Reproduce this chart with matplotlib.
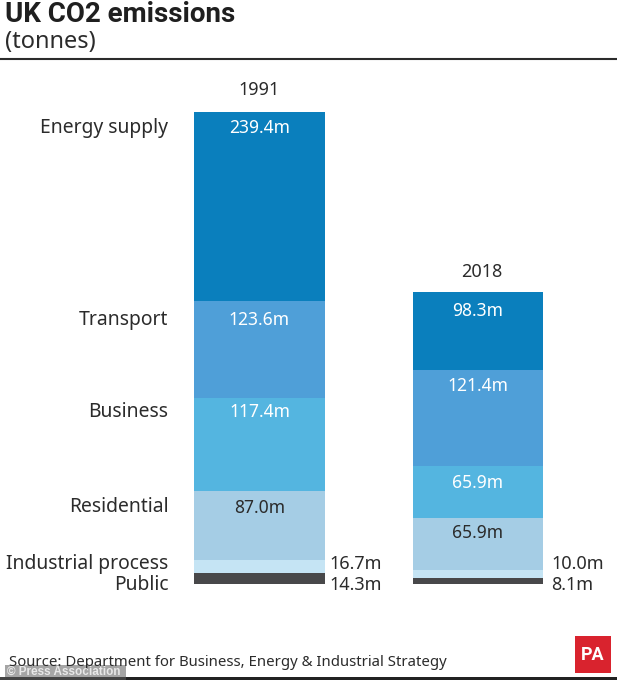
import matplotlib
matplotlib.use("Agg")
import matplotlib.pyplot as plt
from matplotlib.patches import Rectangle

W, H = 617, 680
years = ["1991", "2018"]
sectors = ["Energy supply", "Transport", "Business", "Residential", "Industrial process", "Public"]
values_1991 = [239.4, 123.6, 117.4, 87.0, 16.7, 14.3]
values_2018 = [98.3, 121.4, 65.9, 65.9, 10.0, 8.1]
colors = ["#0a7fbd", "#4f9fd8", "#54b5e0", "#a5cde5", "#c5e4f4", "#48484a"]
text_colors = ["white", "white", "white", "#2b2b2b"]

plt.rcParams["font.family"] = ["Noto Sans", "DejaVu Sans"]
INK = "#2b2b2b"
fig = plt.figure(figsize=(W / 100, H / 100), dpi=100)

page = fig.add_axes([0, 0, 1, 1], zorder=3)
page.set_xlim(0, W); page.set_ylim(H, 0); page.axis("off"); page.patch.set_alpha(0)

scale = 472 / sum(values_1991)
ax = fig.add_axes([0, 0, 1, 1])
ax.set_xlim(0, W)
ax.set_ylim(-(H - 584) / scale, 584 / scale)
ax.axis("off")

bars = [(194, 131, values_1991), (413, 130, values_2018)]
segment_tops = []
for left, width, vals in bars:
    top = sum(vals)
    tops = []
    for v, c in zip(vals, colors):
        ax.bar(left, v, width=width, bottom=top - v, color=c, align="edge", linewidth=0)
        tops.append(top)
        top -= v
    segment_tops.append(tops)

inside_offsets = [[16, 19, 14, 17], [19, 16, 17, 15]]
for (left, width, vals), tops, offs in zip(bars, segment_tops, inside_offsets):
    for v, t, o, tc in zip(vals[:4], tops, offs, text_colors):
        ax.annotate(f"{v:.1f}m", (left + width / 2, t), xytext=(0, -o * 0.72),
                    textcoords="offset points", ha="center", va="center",
                    fontsize=12.6, color=tc)

for vals, x in [(values_1991, 329), (values_2018, 551.5)]:
    page.text(x, 564, f"{vals[4]:.1f}m", fontsize=13, color=INK, ha="left", va="center")
    page.text(x, 585, f"{vals[5]:.1f}m", fontsize=13, color=INK, ha="left", va="center")

for name, y in zip(sectors, [128, 320, 412, 507, 564, 585]):
    page.text(168.5, y, name, fontsize=13.9, color=INK, ha="right", va="center")

page.text(259, 90, years[0], fontsize=13, color=INK, ha="center", va="center")
page.text(482, 272, years[1], fontsize=13, color=INK, ha="center", va="center")

page.text(5, 14, "UK CO2 emissions", fontsize=20, family="Roboto", fontweight="bold",
          color="#1f1f1f", ha="left", va="center")
page.text(5, 42.5, "(tonnes)", fontsize=17, color=INK, ha="left", va="center")
page.plot([0, W], [59, 59], color="#2b2b2b", lw=1.5)

page.text(9, 663, "Source: Department for Business, Energy & Industrial Strategy",
          fontsize=10.75, color=INK, ha="left", va="center")
page.add_patch(Rectangle((5, 665), 121, 15, color="#8f8f8f", alpha=0.8, lw=0))
page.text(7, 672, "© Press Association", fontsize=8.5, fontweight="bold", color="#e8e8e8",
          ha="left", va="center", family="Liberation Sans")
page.add_patch(Rectangle((126, 677), W - 126, 3, color="#222222", lw=0))
page.add_patch(Rectangle((0, 677), 126, 3, color="#444444", lw=0))
page.add_patch(Rectangle((575, 636), 36, 37, color="#d9232e", lw=0))
page.text(593, 654.5, "PA", fontsize=13, fontweight="bold", color="white", ha="center", va="center",
          family="Roboto")

fig.savefig("out.png", dpi=100)
